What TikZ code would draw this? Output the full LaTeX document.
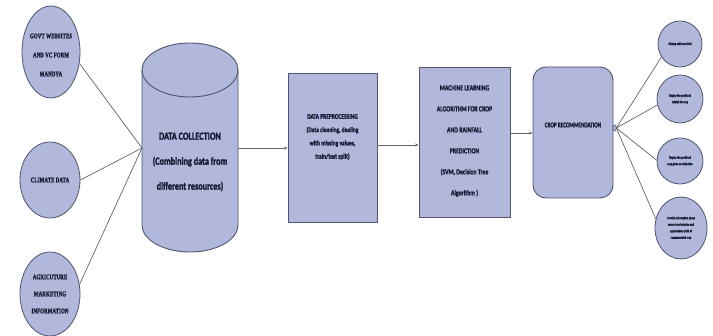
\documentclass[tikz,border=0pt]{standalone}
\usepackage{fontspec}
\setmainfont{Carlito}
\newfontfamily\calib[FakeStretch=0.76,FakeBold=1.6]{Carlito Bold}
\newfontfamily\calibn[FakeStretch=0.7,FakeBold=1.6]{Carlito Bold}
\newfontfamily\tms[FakeStretch=0.7,FakeBold=1.4]{Liberation Serif Bold}
\usetikzlibrary{arrows.meta,shapes.geometric}
\definecolor{fillc}{RGB}{178,184,220}
\definecolor{bordc}{RGB}{80,84,110}
\definecolor{txtc}{RGB}{22,26,50}
\definecolor{linec}{RGB}{100,100,105}
\tikzset{
  x=1pt,y=1pt,
  src/.style={ellipse,draw=bordc,fill=fillc,line width=0.8pt,inner sep=0pt,align=center,text=txtc,
    font={\tms\fontsize{7.2}{18.5}\selectfont}},
  boxs/.style={rectangle,draw=bordc,fill=fillc,line width=0.9pt,inner sep=0pt},
  btxt/.style={align=center,text=txtc,inner sep=0pt},
  outc/.style={ellipse,draw=bordc,fill=fillc,line width=0.8pt,inner sep=0pt,align=center,text=txtc,
    font={\calibn\fontsize{3.6}{6.5}\selectfont}},
  conn/.style={draw=linec,line width=0.7pt},
  arr/.style={conn,-{Stealth[length=3.5pt,width=3pt]}}
}
\begin{document}
\begin{tikzpicture}
\useasboundingbox (0,0) rectangle (713,336);
% left sources
\node[src,minimum width=58,minimum height=92] (e1) at (51,284) {};
\node[btxt,font={\tms\fontsize{7.2}{19}\selectfont}] (e1t) at (51,281) {GOVT WEBSITES\\AND VC FORM\\MANDYA};
\node[src,minimum width=60,minimum height=76] (e2) at (50,156) {CLIMATE DATA};
\node[src,minimum width=60,minimum height=84,font={\tms\fontsize{7.2}{17}\selectfont}] (e3) at (50,42) {AGRICUTURE\\MARKETING\\INFORMATION};
% cylinder
\fill[fillc] (142,266) -- (142,111) arc[start angle=180,end angle=360,x radius=48,y radius=27]
  -- (238,266) arc[start angle=0,end angle=180,x radius=48,y radius=27] -- cycle;
\draw[bordc,line width=0.9pt] (142,266) -- (142,111) arc[start angle=180,end angle=360,x radius=48,y radius=27]
  -- (238,266);
\draw[bordc,line width=0.9pt] (190,266) ellipse[x radius=48,y radius=27];
\node[minimum width=96,minimum height=150,inner sep=0pt] (dc) at (190,188) {};
\node[btxt,font={\calib\fontsize{10.8}{25}\selectfont}] (dct) at (190,174)
  {DATA COLLECTION\\(Combining data from\\different resources)};
\coordinate (hub) at (142,188);
% boxes
\node[boxs,minimum width=89,minimum height=149] (pp) at (332.5,188.5) {};
\node[btxt,font={\calib\fontsize{7.2}{13.3}\selectfont}] (ppt) at (332.5,199)
  {DATA PREPROCESSING\\(Data cleaning, dealing\\with missing values,\\train/test split)};
\node[boxs,minimum width=91,minimum height=150] (ml) at (464.5,194) {};
\node[btxt,font={\calib\fontsize{7.6}{21}\selectfont}] (mlt) at (464.5,195)
  {MACHINE LEARNING\\ALGORITHM FOR CROP\\AND RAINFALL\\PREDICTION\\(SVM, Decision Tree\\Algorithm )};
\node[boxs,rounded corners=13pt,minimum width=80,minimum height=131] (cr) at (573,203.5) {};
\node[btxt,font={\calibn\fontsize{7.4}{8}\selectfont}] (crt) at (573,211) {CROP RECOMMENDATION};
\node[rectangle,rounded corners=1pt,draw=bordc,fill=fillc,line width=0.6pt,minimum width=3,minimum height=6,inner sep=0pt] (hb) at (614.5,208) {};
% outputs
\node[outc,minimum width=44,minimum height=46] (o1) at (680,292) {Display estimate yield};
\node[outc,minimum width=46,minimum height=48] (o2) at (680,237) {Display the predicted\\rainfall for crop};
\node[outc,minimum width=46,minimum height=46] (o3) at (680,175) {Display the predicted\\crop given to cultivation};
\node[outc,minimum width=52,minimum height=62] (o4) at (681,108) {Provide information about\\current market price and\\approximate yield of\\recommended crop};
% connectors
\draw[conn] (e1.-22) -- (hub);
\draw[conn] (e2.east) -- (hub);
\draw[conn] (e3.18) -- (hub);
\draw[arr] (dc.east |- hub) -- (pp.west |- hub);
\draw[arr] (pp.east |- 0,191) -- (ml.west |- 0,191);
\draw[arr] (ml.east |- 0,203) -- (cr.west |- 0,203);
\draw[conn] (hb.east) -- (o1.215);
\draw[conn] (hb.east) -- (o2.195);
\draw[conn] (hb.east) -- (o3.178);
\draw[conn] (hb.east) -- (o4.160);
\end{tikzpicture}
\end{document}
